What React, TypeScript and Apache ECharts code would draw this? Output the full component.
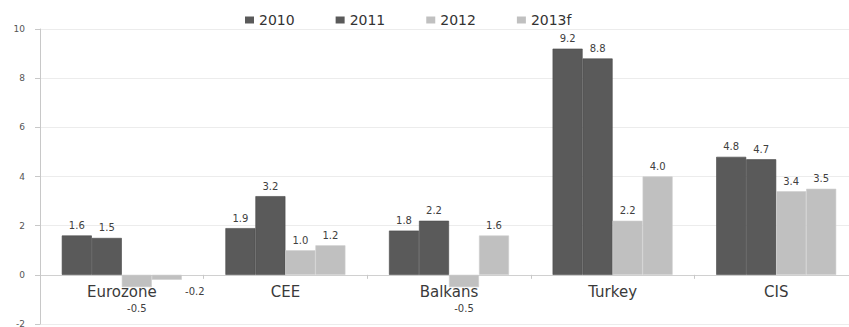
import React, { useEffect, useRef } from "react";
import * as echarts from "echarts";

const categories = ["Eurozone", "CEE", "Balkans", "Turkey", "CIS"];
const seriesNames = ["2010", "2011", "2012", "2013f"];
const v2010 = [1.6, 1.9, 1.8, 9.2, 4.8];
const v2011 = [1.5, 3.2, 2.2, 8.8, 4.7];
const v2012 = [-0.5, 1.0, -0.5, 2.2, 3.4];
const v2013f = [-0.2, 1.2, 1.6, 4.0, 3.5];
const yTicks = [-2, 0, 2, 4, 6, 8, 10];

const DARK = "#5a5a5a";
const LIGHT = "#c0c0c0";
const FONT = "DejaVu Sans";

const Y_MIN = -2;
const Y_MAX = 10;
const GRID_TOP = 29;
const GRID_BOTTOM = 3;
const H = 327;

function toData(vals: number[]) {
  return vals.map((v) => {
    if (v >= 0) return v;
    const small = v > -0.35;
    return {
      value: v,
      label: {
        position: "bottom",
        distance: small ? 7 : 16,
        offset: small ? [28, 0] : [0, 0],
      },
    };
  });
}

export default function App() {
  const ref = useRef<HTMLDivElement>(null);
  useEffect(() => {
    if (!ref.current) return;
    const chart = echarts.init(ref.current, undefined, { renderer: "svg" });
    const allVals = [v2010, v2011, v2012, v2013f];
    const colors = [DARK, DARK, LIGHT, LIGHT];
    const borders = ["#4a4a4a", "#4a4a4a", "#cdcdcd", "#cdcdcd"];
    const gridH = H - GRID_TOP - GRID_BOTTOM;
    const zeroShift = -((0 - Y_MIN) / (Y_MAX - Y_MIN)) * gridH;
    chart.setOption({
      animation: false,
      backgroundColor: "#ffffff",
      textStyle: { fontFamily: FONT },
      legend: {
        top: 8,
        left: 240,
        itemWidth: 9,
        itemHeight: 7,
        itemGap: 41,
        itemStyle: { borderWidth: 0 },
        icon: "rect",
        textStyle: { fontSize: 14, color: "#333333", fontFamily: FONT },
        data: seriesNames,
      },
      grid: {
        left: 40,
        right: -9,
        top: GRID_TOP,
        bottom: GRID_BOTTOM,
        containLabel: false,
        outerBoundsMode: "none",
      },
      xAxis: {
        type: "category",
        data: categories,
        offset: zeroShift,
        axisLine: { onZero: false, lineStyle: { color: "#d0d0d0", width: 1 } },
        axisTick: { show: true, length: 4, lineStyle: { color: "#c8c8c8" } },
        axisLabel: { fontSize: 15, color: "#3a3a3a", margin: 10, fontFamily: FONT },
        splitLine: { show: false },
      },
      yAxis: {
        type: "value",
        min: Y_MIN,
        max: Y_MAX,
        interval: 2,
        axisLine: { show: true, lineStyle: { color: "#c8c8c8" } },
        axisTick: { show: true, length: 5, lineStyle: { color: "#c8c8c8" } },
        axisLabel: {
          fontSize: 9,
          color: "#555555",
          margin: 15,
          fontFamily: FONT,
          formatter: (v: number) => (yTicks.includes(v) ? String(v) : ""),
        },
        splitLine: { show: true, lineStyle: { color: "#ececec", width: 1 } },
      },
      series: seriesNames.map((name, i) => ({
        name,
        type: "bar",
        data: toData(allVals[i]),
        barWidth: 30,
        barGap: "0%",
        itemStyle: { color: colors[i], borderColor: borders[i], borderWidth: 0.6 },
        label: {
          show: true,
          position: "top",
          distance: 5,
          fontSize: 10,
          color: "#404040",
          fontFamily: FONT,
          formatter: (p: any) => Number(p.value).toFixed(1),
        },
      })),
    });
    return () => chart.dispose();
  }, []);
  return (
    <div
      ref={ref}
      style={{ position: "fixed", left: 0, top: 0, width: 849, height: H }}
    />
  );
}
